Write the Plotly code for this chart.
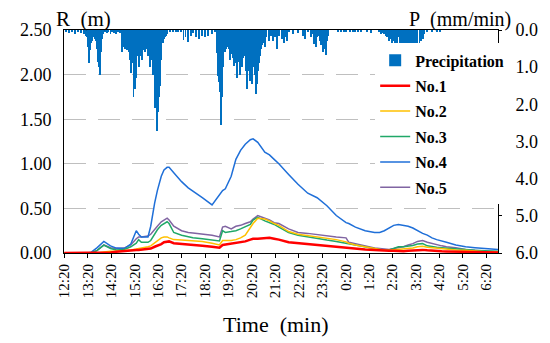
import plotly.graph_objects as go

# ---- time axis (minutes after 12:20) ----
tick_minutes = [0, 60, 120, 180, 240, 300, 360, 420, 480, 540, 600, 660, 720, 780, 840, 900, 960, 1020, 1080]
tick_labels = ["12:20", "13:20", "14:20", "15:20", "16:20", "17:20", "18:20", "19:20", "20:20", "21:20",
               "22:20", "23:20", "0:20", "1:20", "2:20", "3:20", "4:20", "5:20", "6:20"]

# ---- water level lines R (m) ----
t_line = [0, 60, 69, 84, 101, 118, 133, 153, 170, 184, 190, 197, 214, 221, 231, 238, 248, 255, 263, 268,
          280, 300, 317, 329, 353, 378, 397, 405, 412, 427, 439, 451, 463, 476, 483, 495, 513, 525, 537, 549,
          574, 598, 623, 647, 672, 696, 721, 728, 745, 770, 794, 807, 819, 831, 843, 855, 868, 880, 892, 904,
          917, 929, 941, 953, 966, 978, 1002, 1027, 1051, 1076, 1110]

no1 = [0, 0, 0, 0, 0, 0.005, 0.015, 0.025, 0.03, 0.035, 0.035, 0.04, 0.045, 0.05, 0.07, 0.08, 0.10, 0.12, 0.13, 0.13,
       0.11, 0.10, 0.09, 0.088, 0.08, 0.07, 0.06, 0.09, 0.095, 0.10, 0.11, 0.12, 0.13, 0.15, 0.16, 0.16, 0.17, 0.17, 0.16, 0.15,
       0.12, 0.11, 0.095, 0.085, 0.075, 0.063, 0.055, 0.05, 0.045, 0.04, 0.035, 0.03, 0.028, 0.025, 0.025, 0.022, 0.02, 0.025, 0.03, 0.035,
       0.035, 0.03, 0.025, 0.02, 0.02, 0.018, 0.015, 0.012, 0.01, 0.008, 0.005]

no2 = [0, 0, 0, 0, 0.01, 0.02, 0.02, 0.025, 0.035, 0.045, 0.05, 0.05, 0.07, 0.08, 0.11, 0.14, 0.17, 0.18, 0.18, 0.17,
       0.15, 0.145, 0.14, 0.135, 0.13, 0.11, 0.09, 0.14, 0.14, 0.14, 0.15, 0.17, 0.20, 0.29, 0.33, 0.39, 0.38, 0.36, 0.33, 0.31,
       0.24, 0.21, 0.195, 0.18, 0.165, 0.15, 0.125, 0.11, 0.09, 0.07, 0.045, 0.04, 0.03, 0.03, 0.035, 0.04, 0.045, 0.05, 0.055, 0.07,
       0.075, 0.065, 0.06, 0.05, 0.045, 0.04, 0.035, 0.03, 0.02, 0.015, 0.01]

no3 = [0, 0, 0, 0.03, 0.088, 0.05, 0.035, 0.04, 0.07, 0.11, 0.15, 0.12, 0.12, 0.14, 0.21, 0.26, 0.31, 0.33, 0.35, 0.33,
       0.23, 0.20, 0.18, 0.17, 0.16, 0.145, 0.135, 0.25, 0.23, 0.24, 0.25, 0.27, 0.29, 0.32, 0.37, 0.40, 0.36, 0.34, 0.32, 0.29,
       0.23, 0.20, 0.18, 0.16, 0.145, 0.13, 0.11, 0.10, 0.085, 0.07, 0.05, 0.04, 0.035, 0.033, 0.05, 0.07, 0.07, 0.075, 0.085, 0.10,
       0.105, 0.08, 0.07, 0.065, 0.06, 0.055, 0.045, 0.035, 0.03, 0.025, 0.02]

no4 = [0, 0, 0.01, 0.06, 0.13, 0.08, 0.055, 0.05, 0.10, 0.25, 0.21, 0.18, 0.18, 0.30, 0.56, 0.70, 0.86, 0.93, 0.96, 0.96,
       0.90, 0.80, 0.73, 0.69, 0.62, 0.54, 0.66, 0.70, 0.72, 0.86, 1.05, 1.15, 1.22, 1.27, 1.28, 1.24, 1.13, 1.10, 1.05, 1.00,
       0.88, 0.77, 0.67, 0.62, 0.53, 0.42, 0.34, 0.33, 0.29, 0.25, 0.23, 0.23, 0.25, 0.28, 0.31, 0.32, 0.31, 0.30, 0.28, 0.25,
       0.22, 0.20, 0.17, 0.15, 0.13, 0.12, 0.09, 0.07, 0.06, 0.05, 0.04]

no5 = [0, 0, 0, 0.03, 0.09, 0.06, 0.05, 0.055, 0.09, 0.16, 0.18, 0.18, 0.19, 0.21, 0.27, 0.30, 0.35, 0.37, 0.39, 0.37,
       0.30, 0.25, 0.23, 0.225, 0.215, 0.20, 0.18, 0.29, 0.30, 0.27, 0.30, 0.31, 0.33, 0.35, 0.38, 0.42, 0.39, 0.37, 0.34, 0.33,
       0.27, 0.23, 0.22, 0.205, 0.19, 0.18, 0.17, 0.12, 0.105, 0.077, 0.055, 0.05, 0.045, 0.04, 0.05, 0.06, 0.07, 0.09, 0.105, 0.13,
       0.14, 0.12, 0.105, 0.09, 0.08, 0.07, 0.06, 0.04, 0.03, 0.02, 0.015]

# ---- precipitation P (mm/min) ----
p_time = [5, 12, 20, 27, 35, 42, 50, 55, 57, 60, 62, 64, 66, 69, 71, 74, 77, 79, 82, 84, 86, 89, 91, 93, 96, 98,
          103, 108, 113, 118, 123, 128, 133, 138, 143,
          148, 150, 153, 155, 158, 160, 163, 165, 168, 170, 172, 175, 177, 180, 182, 184, 187, 189, 192, 194, 197, 199,
          202, 204, 207, 209, 211, 214, 216, 219, 221, 224, 226, 228, 231, 233, 236, 238, 241, 243, 246, 248, 251, 253,
          256, 258, 261, 263,
          270, 278, 285, 292, 298, 305, 310, 317, 324, 330, 336, 344, 353, 361, 368, 378, 385,
          390, 392, 394, 396, 398, 401, 404, 407, 410, 412, 415, 417, 419, 421, 423, 425, 427, 429, 431, 433, 435, 437,
          439, 441, 443, 445, 447, 450, 451, 453, 455, 457, 459, 462, 464, 466, 468, 470, 472, 474, 476, 478, 480, 482,
          484, 486, 488, 491, 494, 496, 498, 500, 502, 504, 506, 508, 510, 513, 517, 523, 529, 535, 540, 545, 549, 556,
          562, 566, 571,
          574, 586, 598, 610, 615, 623, 631, 635, 639, 643, 647, 650, 653, 656, 658, 660, 662, 664, 666, 669, 672, 676,
          700, 708, 715, 722, 730, 738, 745, 752, 760, 775, 786, 806, 810, 815, 819, 823, 827, 831, 835, 839, 843, 847,
          851, 855, 858, 861, 863, 866, 869, 872, 876, 880, 884, 888, 892, 896, 900, 904, 909, 913, 917, 921, 929, 941,
          953, 961]
p_value = [0.05, 0.08, 0.05, 0.10, 0.06, 0.08, 0.10, 0.15, 0.20, 0.45, 0.90, 0.60, 0.55, 0.35, 0.30, 0.20, 0.25, 0.15, 0.30, 0.50, 0.85, 1.00, 1.22, 0.60, 0.25, 0.10,
           0.05, 0.08, 0.05, 0.10, 0.05, 0.08, 0.10, 0.05, 0.08,
           0.58, 0.35, 0.45, 0.50, 0.40, 0.55, 0.45, 0.60, 0.80, 1.15, 0.90, 0.90, 1.80, 1.58, 1.00, 1.30, 0.70, 0.70, 1.00, 0.70, 0.60, 0.80,
           0.55, 0.50, 0.60, 0.45, 0.50, 0.70, 0.60, 1.00, 0.55, 0.80, 0.80, 1.20, 1.94, 2.10, 2.37, 2.72, 2.20, 1.80, 1.50, 0.80, 0.30, 0.35,
           0.25, 0.20, 0.15, 0.10,
           0.05, 0.03, 0.05, 0.04, 0.05, 0.27, 0.20, 0.32, 0.15, 0.08, 0.20, 0.25, 0.15, 0.20, 0.15, 0.10, 0.05,
           0.62, 0.90, 1.24, 1.40, 1.67, 2.55, 1.80, 1.00, 0.60, 0.55, 0.50, 0.45, 0.40, 0.50, 0.60, 0.80, 0.65, 0.60, 0.75, 0.97, 0.80, 0.70,
           0.90, 1.28, 0.90, 0.85, 0.80, 1.20, 0.70, 0.85, 1.00, 0.75, 0.60, 0.70, 0.90, 1.10, 1.58, 1.00, 1.10, 1.37, 1.10, 0.90, 1.45, 1.00,
           0.90, 0.80, 1.20, 1.71, 1.45, 1.10, 0.90, 0.70, 0.60, 0.50, 0.40, 0.35, 0.30, 0.45, 0.20, 0.30, 0.15, 0.30, 0.20, 0.50, 0.15, 0.25,
           0.35, 0.20, 0.30,
           0.05, 0.10, 0.08, 0.15, 0.23, 0.05, 0.20, 0.10, 0.37, 0.45, 0.20, 0.15, 0.30, 0.20, 0.40, 0.30, 0.60, 0.35, 0.50, 0.66, 0.30, 0.15,
           0.03, 0.05, 0.03, 0.04, 0.03, 0.05, 0.03, 0.04, 0.03, 0.05, 0.08, 0.05, 0.10, 0.08, 0.10, 0.15, 0.20, 0.30, 0.25, 0.50, 0.30, 0.40,
           0.35, 0.20, 0.50, 0.35, 0.30, 0.55, 0.45, 0.58, 0.40, 0.60, 0.50, 0.60, 0.70, 0.80, 0.60, 0.50, 0.35, 0.30, 0.25, 0.10, 0.05, 0.05,
           0.05, 0.05]

SERIF = "Times New Roman, Liberation Serif, DejaVu Serif, serif"

fig = go.Figure()
fig.add_trace(go.Bar(x=p_time, y=p_value, width=2.4, yaxis="y2", name="Precipitation",
                     marker=dict(color="#0070C0", line=dict(width=0)), legendrank=1, legendgroup="p"))

series = [("No.5", no5, "#8064A2", 1.5, 6), ("No.4", no4, "#1F6FD8", 1.5, 5),
          ("No.3", no3, "#20A868", 1.5, 4), ("No.2", no2, "#FFC000", 1.5, 3),
          ("No.1", no1, "#FF0000", 2.5, 2)]
for name, vals, col, w, rank in series:
    fig.add_trace(go.Scatter(x=t_line, y=vals, mode="lines", name=name,
                             line=dict(color=col, width=w), legendrank=rank, legendgroup=name))

fig.update_layout(
    width=542, height=335,
    margin=dict(l=47, r=41, t=17, b=90),
    paper_bgcolor="white", plot_bgcolor="white",
    font=dict(family=SERIF, color="black"),
    bargap=0,
    showlegend=True,
    legend=dict(x=0.717, y=0.94, xanchor="left", yanchor="top", bgcolor="white",
                font=dict(family=SERIF, size=16, color="black", weight="bold"),
                itemwidth=30, tracegroupgap=1.6),
    xaxis=dict(range=[-1, 1110], tickmode="array", tickvals=tick_minutes, ticktext=tick_labels,
               tickangle=-90, tickfont=dict(family=SERIF, size=15), showgrid=False, zeroline=False,
               showline=True, linecolor="black", linewidth=1, mirror=True,
               ticks="outside", ticklen=4, tickcolor="black"),
    yaxis=dict(range=[0, 2.5], tickmode="array", tickvals=[0, 0.5, 1.0, 1.5, 2.0, 2.5],
               tickformat=".2f", tickfont=dict(family=SERIF, size=18),
               showgrid=True, gridcolor="#BFBFBF", griddash="22px,12px", gridwidth=1,
               zeroline=False, showline=True, linecolor="black", linewidth=1, ticks="",
               ticklabelstandoff=8),
    yaxis2=dict(range=[6, 0], overlaying="y", side="right", tickmode="array",
                tickvals=[0, 1, 2, 3, 4, 5, 6], tickformat=".1f", tickfont=dict(family=SERIF, size=18),
                showgrid=False, zeroline=False, showline=True, linecolor="black", linewidth=1,
                ticks="outside", ticklen=3, tickcolor="black", ticklabelstandoff=10),
    annotations=[
        dict(text="R\u00a0 (m)", xref="paper", yref="paper", x=0.044, y=1.048, xanchor="center",
             yanchor="middle", showarrow=False, font=dict(family=SERIF, size=21)),
        dict(text="P\u00a0 (mm/min)", xref="paper", yref="paper", x=0.912, y=1.048, xanchor="center",
             yanchor="middle", showarrow=False, font=dict(family=SERIF, size=20)),
        dict(text="Time\u00a0 (min)", xref="paper", yref="paper", x=0.489, y=-0.322, xanchor="center",
             yanchor="middle", showarrow=False, font=dict(family=SERIF, size=22)),
    ],
)

fig.write_html("out.html")
